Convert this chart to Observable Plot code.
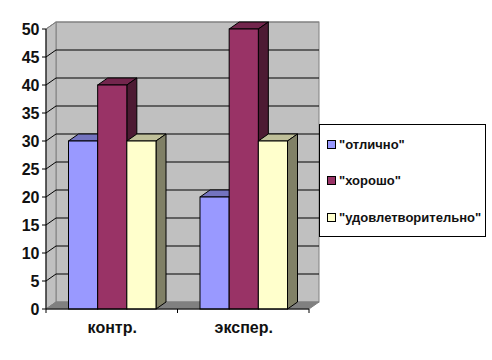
<!DOCTYPE html>
<html>
<head>
<meta charset="utf-8">
<script src="https://cdn.jsdelivr.net/npm/d3@7"></script>
<script src="https://cdn.jsdelivr.net/npm/@observablehq/plot@0.6"></script>
<style>
html,body{margin:0;padding:0;background:#fff;}
#wrap{position:relative;width:492px;height:360px;overflow:hidden;font-family:"Liberation Sans",Arial,sans-serif;}
#legend{position:absolute;left:319px;top:124px;width:167px;height:113px;box-sizing:border-box;border:1px solid #000;background:#fff;}
.row{position:absolute;left:7px;display:flex;align-items:center;font-size:13px;font-weight:bold;color:#111;white-space:nowrap;height:14px;}
.sw{display:inline-block;width:7px;height:7px;border:1px solid #000;margin-right:3px;}
</style>
</head>
<body>
<div id="wrap"></div>
<script>
const categories = ["контр.", "экспер."];
const series = ['"отлично"', '"хорошо"', '"удовлетворительно"'];
const colors = ["#9999ff", "#993366", "#ffffcc"];
const controlValues = [30, 40, 30];
const experimentValues = [20, 50, 30];
const yTicks = [0, 5, 10, 15, 20, 25, 30, 35, 40, 45, 50];

const rows = [];
series.forEach((s, i) => {
  rows.push({category: categories[0], series: s, value: controlValues[i]});
  rows.push({category: categories[1], series: s, value: experimentValues[i]});
});

const depthX = 10, depthY = 7;
const NS = "http://www.w3.org/2000/svg";
function el(parent, name, attrs, before) {
  const e = document.createElementNS(NS, name);
  for (const k in attrs) e.setAttribute(k, attrs[k]);
  if (before) parent.insertBefore(e, before); else parent.appendChild(e);
  return e;
}
function shade(c, k) {
  const r = d3.rgb(c);
  return d3.rgb(r.r * k, r.g * k, r.b * k).formatHex();
}
const poly = pts => pts.map(p => p.join(",")).join(" ");

function drawWalls(index, scales, values, dims) {
  const g = document.createElementNS(NS, "g");
  const x0 = dims.marginLeft, x1 = dims.width - dims.marginRight;
  const y0 = scales.y(yTicks[0]), yT = scales.y(yTicks[yTicks.length - 1]);
  el(g, "rect", {x: x0 + depthX, y: yT - depthY, width: x1 - x0, height: y0 - yT, fill: "#c0c0c0", stroke: "#808080"});
  el(g, "polygon", {points: poly([[x0, y0], [x0, yT], [x0 + depthX, yT - depthY], [x0 + depthX, y0 - depthY]]), fill: "#c0c0c0", stroke: "#808080"});
  el(g, "polygon", {points: poly([[x0, y0], [x0 + depthX, y0 - depthY], [x1 + depthX, y0 - depthY], [x1, y0]]), fill: "#808080", stroke: "#808080"});
  for (const t of yTicks.slice(1)) {
    const y = scales.y(t);
    el(g, "polyline", {points: poly([[x0, y], [x0 + depthX, y - depthY], [x1 + depthX, y - depthY]]), fill: "none", stroke: t === 50 ? "#808080" : "#000"});
  }
  return g;
}
function drawFrontAxes(index, scales, values, dims) {
  const g = document.createElementNS(NS, "g");
  const x0 = dims.marginLeft, x1 = dims.width - dims.marginRight;
  const y0 = scales.y(yTicks[0]), yT = scales.y(yTicks[yTicks.length - 1]);
  el(g, "line", {x1: x0, x2: x0, y1: yT, y2: y0, stroke: "#000"});
  el(g, "line", {x1: x0, x2: x1, y1: y0, y2: y0, stroke: "#000"});
  for (const x of [x0, scales.fx(categories[1]), x1]) {
    el(g, "line", {x1: x, x2: x, y1: y0, y2: y0 + 4, stroke: "#000"});
  }
  for (const t of yTicks) {
    const y = scales.y(t);
    el(g, "line", {x1: x0 - 4, x2: x0, y1: y, y2: y, stroke: "#000"});
  }
  return g;
}
function drawBars(index, scales, values, dims, context, next) {
  const g = next(index, scales, values, dims, context);
  const rects = Array.from(g.querySelectorAll("rect"));
  rects.forEach((r, j) => {
    const x = +r.getAttribute("x"), y = +r.getAttribute("y");
    const w = +r.getAttribute("width"), h = +r.getAttribute("height");
    const fill = r.getAttribute("fill");
    const parent = r.parentNode;
    el(parent, "polygon", {points: poly([[x, y], [x + depthX, y - depthY], [x + w + depthX, y - depthY], [x + w, y]]), fill: shade(fill, 0.75), stroke: "#000"}, r);
    el(parent, "polygon", {points: poly([[x + w, y], [x + w + depthX, y - depthY], [x + w + depthX, y + h - depthY], [x + w, y + h]]), fill: shade(fill, 0.5), stroke: "#000"}, r);
    r.setAttribute("stroke", "#000");
  });
  return g;
}

const chart = Plot.plot({
  width: 492,
  height: 360,
  marginLeft: 46,
  marginRight: 183,
  marginTop: 29,
  marginBottom: 51,
  style: {background: "#fff", fontFamily: '"Liberation Sans", Arial, sans-serif'},
  fx: {domain: categories, padding: 0, label: null, round: false},
  x: {domain: series, padding: 0, insetLeft: 22.5, insetRight: 21.5, axis: null, label: null, round: false},
  y: {domain: [0, 50], label: null, axis: null},
  color: {domain: series, range: colors},
  marks: [
    Plot.frame({facet: "super", stroke: "none", render: drawWalls}),
    Plot.barY(rows, {fx: "category", x: "series", y: "value", fill: "series", render: drawBars}),
    Plot.frame({facet: "super", stroke: "none", render: drawFrontAxes}),
    Plot.axisY(yTicks, {anchor: "left", tickSize: 0, tickPadding: 7, label: null, fontSize: 16, fontWeight: "bold", fill: "#111"}),
    Plot.axisFx({anchor: "bottom", tickSize: 0, tickPadding: 12, label: null, fontSize: 16, fontWeight: "bold", fill: "#111"})
  ]
});

const wrap = document.getElementById("wrap");
wrap.appendChild(chart);

const legend = document.createElement("div");
legend.id = "legend";
const tops = [12, 48, 85];
series.forEach((s, i) => {
  const row = document.createElement("div");
  row.className = "row";
  row.style.top = tops[i] + "px";
  const sw = document.createElement("span");
  sw.className = "sw";
  sw.style.background = colors[i];
  row.appendChild(sw);
  row.appendChild(document.createTextNode(s));
  legend.appendChild(row);
});
wrap.appendChild(legend);
</script>
</body>
</html>
